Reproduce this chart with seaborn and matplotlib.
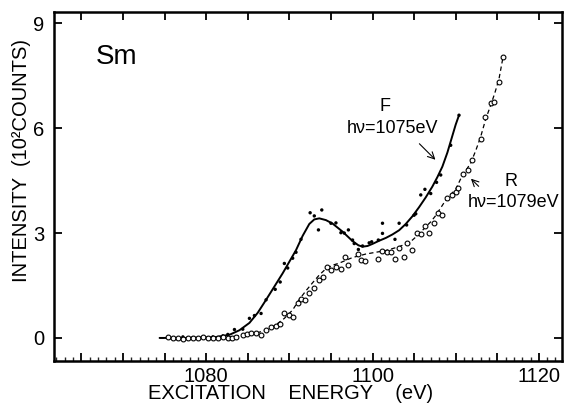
import matplotlib

matplotlib.use("Agg")
import matplotlib.pyplot as plt
import seaborn as sns
from matplotlib.ticker import FuncFormatter, MultipleLocator

# curva F (fluorescencia, hv = 1075 eV): linea suave y puntos medidos
f_curve_x = [1074.4, 1078.0, 1081.0, 1082.8, 1084.0, 1085.2, 1086.2, 1087.2, 1088.2, 1089.2,
             1090.0, 1090.8, 1091.6, 1092.4, 1093.0, 1093.6, 1094.4, 1095.2, 1096.4, 1097.6,
             1098.3, 1098.8, 1099.4, 1100.0, 1100.8, 1101.6, 1102.4, 1103.2, 1104.0, 1104.8,
             1105.6, 1106.4, 1107.2, 1107.8, 1108.4, 1109.0, 1109.5, 1110.0, 1110.4]
f_curve_y = [0.0, 0.0, 0.02, 0.09, 0.22, 0.43, 0.72, 1.09, 1.47, 1.85,
             2.18, 2.51, 2.92, 3.26, 3.39, 3.42, 3.37, 3.27, 3.04, 2.77,
             2.65, 2.61, 2.63, 2.69, 2.78, 2.86, 2.96, 3.08, 3.26, 3.48,
             3.74, 4.02, 4.33, 4.6, 4.9, 5.3, 5.7, 6.1, 6.37]

f_dots_x = [1075.6, 1076.4, 1077.2, 1077.8, 1078.4, 1079.0, 1079.6, 1080.2, 1080.8, 1081.4,
            1082.0, 1082.6, 1083.4, 1084.4, 1085.2, 1085.8, 1086.6, 1087.2, 1088.3, 1088.9,
            1089.4, 1089.8, 1090.4, 1090.8, 1091.4, 1092.5, 1093.0, 1093.5, 1093.9, 1095.0,
            1095.6, 1096.2, 1096.6, 1097.1, 1097.6, 1097.8, 1098.3, 1098.8, 1099.6, 1099.9,
            1100.7, 1101.2, 1101.2, 1102.7, 1103.2, 1104.1, 1105.0, 1105.2, 1105.8, 1106.3,
            1107.0, 1107.7, 1108.2, 1109.4, 1110.4]
f_dots_y = [0.0, -0.02, 0.03, 0.0, 0.01, -0.01, 0.02, 0.0, 0.03, 0.01,
            0.06, 0.1, 0.24, 0.25, 0.56, 0.64, 0.7, 1.09, 1.39, 1.6,
            2.13, 2.0, 2.28, 2.45, 2.82, 3.58, 3.49, 3.09, 3.66, 3.28,
            3.29, 3.01, 3.0, 3.09, 2.8, 2.7, 2.53, 2.63, 2.72, 2.75,
            2.8, 3.28, 2.99, 2.82, 3.28, 3.23, 3.51, 3.55, 4.09, 4.25,
            4.13, 4.45, 4.66, 5.51, 6.37]

# curva R (hv = 1079 eV): linea discontinua y circulos abiertos
r_curve_x = [1074.4, 1078.0, 1082.0, 1083.6, 1085.0, 1086.2, 1087.2, 1088.3, 1089.4, 1090.4,
             1091.2, 1092.0, 1092.8, 1093.6, 1094.4, 1095.2, 1096.0, 1097.6, 1099.2, 1100.4,
             1101.6, 1103.2, 1104.0, 1104.8, 1105.6, 1106.4, 1107.0, 1107.6, 1108.2, 1108.8,
             1109.4, 1110.0, 1110.6, 1111.2, 1111.8, 1112.4, 1113.0, 1113.6, 1114.2, 1114.7,
             1115.2, 1115.7]
r_curve_y = [0.0, 0.0, 0.01, 0.05, 0.1, 0.15, 0.23, 0.36, 0.56, 0.8,
             1.1, 1.35, 1.58, 1.8, 1.98, 2.08, 2.14, 2.3, 2.4, 2.45,
             2.5, 2.61, 2.69, 2.8, 2.97, 3.18, 3.32, 3.5, 3.72, 3.94,
             4.1, 4.25, 4.55, 4.78, 5.0, 5.35, 5.75, 6.25, 6.65, 7.0,
             7.4, 8.04]

r_dots_x = [1075.4, 1076.0, 1076.6, 1077.2, 1077.8, 1078.4, 1079.0, 1079.6, 1080.2, 1080.8,
            1081.4, 1082.0, 1082.6, 1083.1, 1083.6, 1084.4, 1084.9, 1085.4, 1086.0, 1086.6,
            1087.2, 1087.8, 1088.4, 1088.9, 1089.4, 1090.0, 1090.4, 1091.0, 1091.4, 1091.9,
            1092.4, 1093.0, 1093.6, 1094.0, 1094.5, 1095.0, 1095.6, 1096.2, 1096.7, 1097.0,
            1098.2, 1098.6, 1099.1, 1100.7, 1101.2, 1101.8, 1102.2, 1102.7, 1103.2, 1103.8,
            1104.2, 1104.8, 1105.4, 1105.8, 1106.3, 1106.8, 1107.4, 1107.9, 1108.4, 1109.0,
            1109.5, 1110.0, 1110.3, 1110.9, 1111.5, 1112.0, 1113.0, 1113.5, 1114.2, 1114.6,
            1115.2, 1115.7]
r_dots_y = [0.02, -0.01, 0.01, -0.02, 0.0, 0.01, -0.01, 0.02, 0.0, 0.01,
            -0.01, 0.02, 0.0, 0.01, 0.04, 0.09, 0.12, 0.13, 0.15, 0.09,
            0.23, 0.32, 0.34, 0.4, 0.7, 0.66, 0.59, 0.99, 1.1, 1.09,
            1.28, 1.42, 1.66, 1.75, 2.02, 1.94, 2.02, 1.97, 2.32, 2.09,
            2.4, 2.23, 2.21, 2.26, 2.49, 2.47, 2.47, 2.26, 2.56, 2.31,
            2.71, 2.51, 2.99, 2.97, 3.2, 2.99, 3.28, 3.56, 3.51, 3.99,
            4.09, 4.18, 4.28, 4.69, 4.8, 5.09, 5.7, 6.32, 6.71, 6.75,
            7.32, 8.04]

sns.set_theme(style="ticks")
plt.rcParams["font.family"] = ["Liberation Sans", "DejaVu Sans"]

fig = plt.figure(figsize=(5.64, 4.04), dpi=100)
ax = fig.add_axes([0.0957, 0.1064, 0.901, 0.8646])

sns.lineplot(x=f_curve_x, y=f_curve_y, color="black", lw=1.4, ax=ax)
sns.lineplot(x=r_curve_x, y=r_curve_y, color="black", lw=0.9, ax=ax, linestyle=(0, (3.5, 2.5)))
sns.scatterplot(x=f_dots_x, y=f_dots_y, color="black", s=6, edgecolor="none", ax=ax, zorder=3)
sns.scatterplot(x=r_dots_x, y=r_dots_y, facecolor="white", edgecolor="black", linewidth=0.8,
                s=12, ax=ax, zorder=3)

ax.set_xlim(1061.7, 1122.8)
ax.set_ylim(-0.66, 9.33)

ax.xaxis.set_major_locator(MultipleLocator(5))
ax.xaxis.set_minor_locator(MultipleLocator(1))
ax.xaxis.set_major_formatter(FuncFormatter(lambda v, p: f"{v:.0f}" if round(v) % 20 == 0 else ""))
ax.yaxis.set_major_locator(MultipleLocator(3))
ax.tick_params(which="major", direction="in", length=6, width=1.3, top=True, right=True,
               labelsize=14.5, color="black", labelcolor="black")
ax.tick_params(which="minor", direction="in", length=3, width=1.0, top=False, bottom=True)
ax.tick_params(axis="y", pad=7)
ax.tick_params(axis="x", pad=4)
for spine in ax.spines.values():
    spine.set_linewidth(1.8)
    spine.set_color("black")

ax.set_xlabel("EXCITATION    ENERGY    (eV)", fontsize=14.5, color="black", va="top")
ax.xaxis.set_label_coords(0.466, -0.066)
ax.set_ylabel("INTENSITY  (10²COUNTS)", fontsize=14.5, color="black", va="center")
ax.yaxis.set_label_coords(-0.063, 0.573)

ax.text(1066.7, 8.03, "Sm", fontsize=20, va="center", ha="left", color="black")
ax.text(1101.5, 6.61, "F", fontsize=13, ha="center", va="center", color="black")
ax.text(1102.4, 5.99, "hν=1075eV", fontsize=13, ha="center", va="center", color="black")
ax.text(1116.6, 4.47, "R", fontsize=13, ha="center", va="center", color="black")
ax.text(1116.9, 3.86, "hν=1079eV", fontsize=13, ha="center", va="center", color="black")
ax.annotate("", xy=(1107.8, 5.04), xytext=(1105.4, 5.61),
            arrowprops=dict(arrowstyle="->", color="black", lw=0.8))
ax.annotate("", xy=(1111.6, 4.61), xytext=(1113.0, 4.28),
            arrowprops=dict(arrowstyle="->", color="black", lw=0.8))

fig.savefig("out.png", dpi=100, facecolor="white")
